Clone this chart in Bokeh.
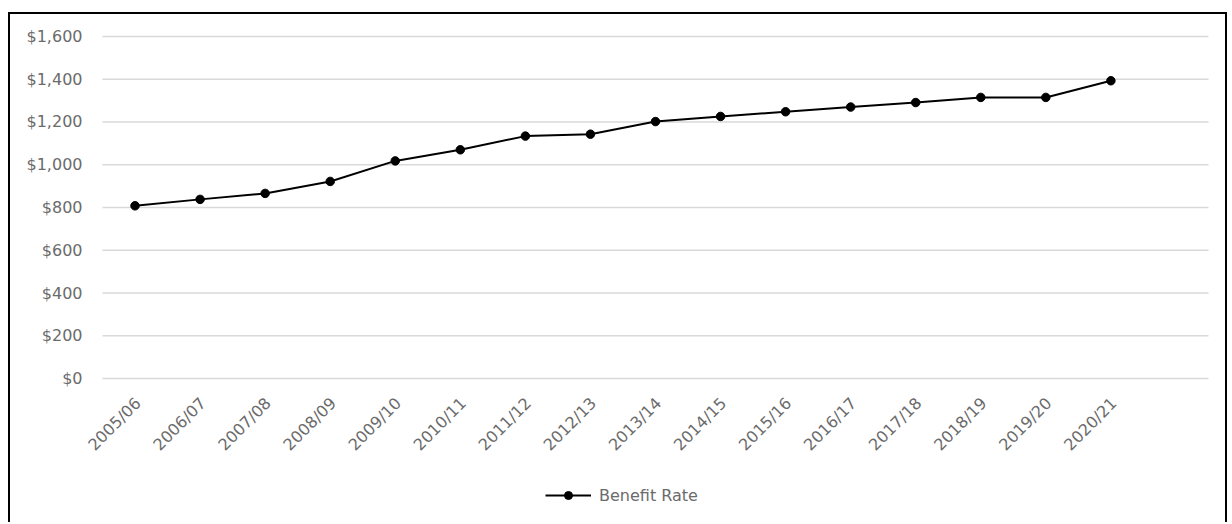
from bokeh.plotting import figure
from bokeh.models import Range1d, Legend, LegendItem
from bokeh.embed import file_html
from bokeh.resources import INLINE
from bokeh.core.properties import value
import math

# Benefit rate by financial year
years = ["2005/06", "2006/07", "2007/08", "2008/09", "2009/10", "2010/11",
         "2011/12", "2012/13", "2013/14", "2014/15", "2015/16", "2016/17",
         "2017/18", "2018/19", "2019/20", "2020/21"]
benefit_rate = [808, 838, 866, 922, 1018, 1070, 1134, 1143, 1202, 1226,
                1248, 1270, 1291, 1315, 1315, 1393]
y_ticks = [0, 200, 400, 600, 800, 1000, 1200, 1400, 1600]
y_labels = [f"${v:,}" for v in y_ticks]

FONT = "DejaVu Sans"
GREY = "#6b6b6b"
GRID = "#d9d9d9"

xs = list(range(len(years)))
# value area spans one empty slot after the last year
x_lo, x_hi = -0.5, len(years) + 0.5

# The frame fills the whole chart box; value labels, category labels, grid
# and legend are drawn inside it.
p = figure(width=1219, height=510,
           x_range=Range1d(-1.914, 16.823),
           y_range=Range1d(-683, 1702.9),
           x_axis_location=None, y_axis_location=None,
           output_backend="svg", toolbar_location=None,
           min_border_left=0, min_border_right=0,
           min_border_top=0, min_border_bottom=0)
p.styles = {"border-top": "2px solid #000", "border-left": "2px solid #000",
            "border-right": "2px solid #000", "margin-left": "8px",
            "margin-top": "12px"}
p.outline_line_color = None
p.background_fill_color = "white"
p.border_fill_color = "white"
p.grid.visible = False

# horizontal gridlines
p.segment(x0=[x_lo] * len(y_ticks), x1=[x_hi] * len(y_ticks),
          y0=y_ticks, y1=y_ticks, line_color=GRID, line_width=1.5)

# value labels
p.text(x=[x_lo] * len(y_ticks), y=y_ticks, text=y_labels, x_offset=-20,
       text_align="right", text_baseline="middle",
       text_font=value(FONT), text_font_size="16px", text_color=GREY)

# category labels, slanted under each year
p.text(x=xs, y=[y_ticks[0]] * len(xs), text=years, angle=math.pi / 4,
       x_offset=3, y_offset=22, text_align="right", text_baseline="middle",
       text_font=value(FONT), text_font_size="16px", text_color=GREY)

# series
ln = p.line(xs, benefit_rate, line_color="black", line_width=2)
pts = p.scatter(xs, benefit_rate, size=8.5, fill_color="black", line_color="black")

legend = Legend(items=[LegendItem(label="Benefit Rate", renderers=[ln, pts])],
                location=(535, 19), orientation="horizontal",
                padding=0, margin=0, spacing=0,
                glyph_width=46, glyph_height=20, label_height=20,
                label_standoff=8, border_line_color=None,
                background_fill_alpha=0,
                label_text_font=FONT, label_text_font_size="16px",
                label_text_color=GREY)
p.add_layout(legend, "center")

html = file_html(p, INLINE)
html = html.replace("<head>", "<head><style>html,body{margin:0;overflow:hidden;}</style>", 1)
open("out.html", "w").write(html)
